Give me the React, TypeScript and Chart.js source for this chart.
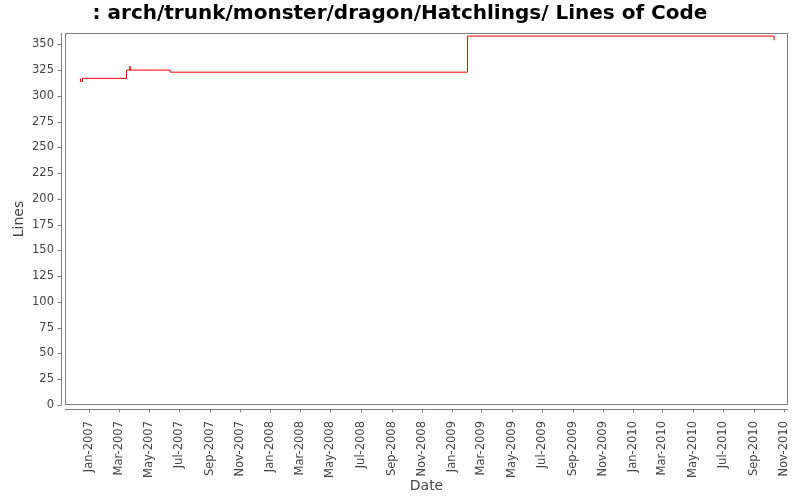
import React, { useEffect, useRef } from 'react';
import { Chart, registerables } from 'chart.js';

Chart.register(...registerables);

const chartTitle = ': arch/trunk/monster/dragon/Hatchlings/ Lines of Code';

// line count snapshots (step line)
const commitDates = [
  '2006-12-14', '2006-12-14', '2006-12-18', '2007-03-17', '2007-03-24',
  '2007-03-24', '2007-06-13', '2009-02-01', '2010-10-12',
];
const lineCounts = [317, 314, 317, 325, 329, 325, 323, 358, 354];

const yTicks = [0, 25, 50, 75, 100, 125, 150, 175, 200, 225, 250, 275, 300, 325, 350];
const xTickLabels = [
  'Jan-2007', 'Mar-2007', 'May-2007', 'Jul-2007', 'Sep-2007', 'Nov-2007',
  'Jan-2008', 'Mar-2008', 'May-2008', 'Jul-2008', 'Sep-2008', 'Nov-2008',
  'Jan-2009', 'Mar-2009', 'May-2009', 'Jul-2009', 'Sep-2009', 'Nov-2009',
  'Jan-2010', 'Mar-2010', 'May-2010', 'Jul-2010', 'Sep-2010', 'Nov-2010',
];
const xRange = ['2006-11-13', '2010-11-09'];
const yRange = [0, 361];

const MONTHS = ['Jan', 'Feb', 'Mar', 'Apr', 'May', 'Jun', 'Jul', 'Aug', 'Sep', 'Oct', 'Nov', 'Dec'];
const toMs = (d: string) => Date.parse(d + 'T00:00:00Z');
const labelToMs = (l: string) => {
  const [m, y] = l.split('-');
  return Date.UTC(Number(y), MONTHS.indexOf(m), 1);
};

const GRAY = '#808080';
const TEXT = '#444444';

// JFreeChart style: plot outline plus axes drawn a few pixels off the data area
const offsetAxes = {
  id: 'offsetAxes',
  beforeDatasetsDraw(chart: any) {
    const { ctx, chartArea: a } = chart;
    ctx.save();
    ctx.strokeStyle = GRAY;
    ctx.lineWidth = 1;
    const l = Math.round(a.left) + 0.5;
    const t = Math.round(a.top) + 0.5;
    const r = Math.round(a.right) - 0.5;
    const b = Math.round(a.bottom) - 0.5;
    ctx.strokeRect(l, t, r - l, b - t);
    ctx.restore();
  },
  afterDraw(chart: any) {
    const { ctx, chartArea: a, scales } = chart;
    ctx.save();
    ctx.strokeStyle = GRAY;
    ctx.lineWidth = 1;
    const ax = Math.round(a.left) - 4 + 0.5;
    const ay = Math.round(a.bottom) + 4 + 0.5;
    ctx.beginPath();
    ctx.moveTo(ax, Math.round(a.top));
    ctx.lineTo(ax, Math.round(a.bottom));
    ctx.moveTo(Math.round(a.left), ay);
    ctx.lineTo(Math.round(a.right), ay);
    scales.y.ticks.forEach((tk: any) => {
      const py = Math.round(scales.y.getPixelForValue(tk.value)) + 0.5;
      ctx.moveTo(ax - 4, py);
      ctx.lineTo(ax, py);
    });
    scales.x.ticks.forEach((tk: any) => {
      const px = Math.round(scales.x.getPixelForValue(tk.value)) + 0.5;
      ctx.moveTo(px, ay);
      ctx.lineTo(px, ay + 3);
    });
    ctx.stroke();
    ctx.restore();
  },
};

const App: React.FC = () => {
  const canvasRef = useRef<HTMLCanvasElement | null>(null);

  useEffect(() => {
    if (!canvasRef.current) return;
    const tickFont = { family: 'DejaVu Sans', size: 11.5 };

    const chart = new Chart(canvasRef.current, {
      type: 'line',
      data: {
        datasets: [{
          label: 'Lines',
          data: commitDates.map((d, i) => ({ x: toMs(d), y: lineCounts[i] })),
          borderColor: '#ff0000',
          borderWidth: 1,
          pointRadius: 0,
          stepped: 'before',
          fill: false,
        }],
      },
      options: {
        animation: false,
        responsive: true,
        maintainAspectRatio: false,
        layout: { padding: 0 },
        plugins: {
          legend: { display: false },
          tooltip: { enabled: false },
          title: {
            display: true,
            text: chartTitle,
            color: '#000000',
            font: { family: 'DejaVu Sans', size: 20, weight: 'bold' },
            padding: { top: 2, bottom: 7 },
          },
        },
        scales: {
          x: {
            type: 'linear',
            min: toMs(xRange[0]),
            max: toMs(xRange[1]),
            afterBuildTicks: (s: any) => { s.ticks = xTickLabels.map(l => ({ value: labelToMs(l) })); },
            afterFit: (s: any) => { s.height = 95; s.paddingLeft = 0; s.paddingRight = 12; },
            grid: { display: false, drawTicks: false },
            border: { display: false },
            ticks: {
              autoSkip: false,
              minRotation: 90,
              maxRotation: 90,
              padding: 16,
              color: TEXT,
              font: tickFont,
              callback: (_v: any, i: number) => xTickLabels[i],
            },
            title: {
              display: true,
              text: 'Date',
              color: TEXT,
              font: { family: 'DejaVu Sans', size: 14 },
              padding: { top: 0, bottom: 5 },
            },
          },
          y: {
            min: yRange[0],
            max: yRange[1],
            afterBuildTicks: (s: any) => { s.ticks = yTicks.map(v => ({ value: v })); },
            afterFit: (s: any) => { s.width = 65; s.paddingTop = 0; s.paddingBottom = 0; },
            grid: { display: false, drawTicks: false },
            border: { display: false },
            ticks: {
              padding: 11,
              color: TEXT,
              font: tickFont,
              callback: (v: any) => String(v),
            },
            title: {
              display: true,
              text: 'Lines',
              color: TEXT,
              font: { family: 'DejaVu Sans', size: 14 },
              padding: { top: 11, bottom: 0 },
            },
          },
        },
      },
      plugins: [offsetAxes],
    });

    return () => chart.destroy();
  }, []);

  return (
    <div style={{ position: 'fixed', left: 0, top: 0, width: 800, height: 500, background: '#ffffff' }}>
      <canvas ref={canvasRef}></canvas>
    </div>
  );
};

export default App;
